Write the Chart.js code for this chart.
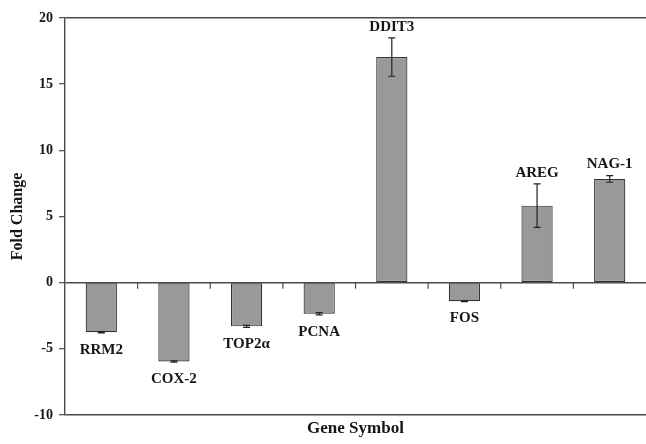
<!DOCTYPE html>
<html>
<head>
<meta charset="utf-8">
<title>Fold Change by Gene Symbol</title>
<script src="https://cdn.jsdelivr.net/npm/chart.js@4.4.1/dist/chart.umd.min.js"></script>
<style>
  html, body { margin: 0; padding: 0; background: #fff; }
  #wrap { width: 646px; height: 444px; }
</style>
</head>
<body>
<div id="wrap"><canvas id="foldChart" width="646" height="444"></canvas></div>
<script>
const genes = ['RRM2', 'COX-2', 'TOP2\u03b1', 'PCNA', 'DDIT3', 'FOS', 'AREG', 'NAG-1'];
const foldChange = [-3.75, -5.95, -3.3, -2.35, 17.05, -1.4, 5.82, 7.84];
const foldError = [0.05, 0.05, 0.08, 0.08, 1.45, 0.03, 1.64, 0.25];
const yTicks = [-10, -5, 0, 5, 10, 15, 20];

const serif = "'Liberation Serif', 'Times New Roman', serif";
const ink = '#161616';
const lineCol = '#4a4a4a';

// error bars + gene labels next to each bar
const barExtras = {
    id: 'barExtras',
    afterDatasetsDraw(chart) {
        const ctx = chart.ctx;
        const y = chart.scales.y;
        const x = chart.scales.x;
        const meta = chart.getDatasetMeta(0);

        // small ticks on the zero line between categories
        ctx.save();
        ctx.strokeStyle = lineCol;
        ctx.lineWidth = 1.2;
        const y0 = y.getPixelForValue(0);
        for (let i = 0; i < genes.length - 1; i++) {
            const bx = (x.getPixelForValue(i) + x.getPixelForValue(i + 1)) / 2;
            ctx.beginPath();
            ctx.moveTo(bx, y0);
            ctx.lineTo(bx, y0 + 6);
            ctx.stroke();
        }

        ctx.strokeStyle = '#222';
        ctx.lineWidth = 1.2;
        ctx.font = 'bold 15px ' + serif;
        ctx.fillStyle = ink;
        ctx.textAlign = 'center';
        ctx.textBaseline = 'middle';
        meta.data.forEach((bar, i) => {
            const v = foldChange[i];
            const e = foldError[i];
            const top = y.getPixelForValue(v + e);
            const bot = y.getPixelForValue(v - e);
            ctx.beginPath();
            ctx.moveTo(bar.x, top);
            ctx.lineTo(bar.x, bot);
            ctx.moveTo(bar.x - 3.5, top);
            ctx.lineTo(bar.x + 3.5, top);
            ctx.moveTo(bar.x - 3.5, bot);
            ctx.lineTo(bar.x + 3.5, bot);
            ctx.stroke();

            if (v >= 0) {
                ctx.fillText(genes[i], bar.x, top - 11);
            } else {
                ctx.fillText(genes[i], bar.x, bot + 17);
            }
        });
        ctx.restore();
    }
};

const frameLines = [20, 0, -10];

new Chart(document.getElementById('foldChart').getContext('2d'), {
    type: 'bar',
    data: {
        labels: genes,
        datasets: [{
            data: foldChange,
            backgroundColor: '#999999',
            borderColor: '#333333',
            borderWidth: 1.2,
            borderSkipped: false,
            barPercentage: 0.43,
            categoryPercentage: 1
        }]
    },
    options: {
        responsive: false,
        devicePixelRatio: 1,
        animation: false,
        layout: { padding: { top: 18, right: 0, bottom: 0, left: 0 } },
        plugins: {
            legend: { display: false },
            tooltip: { enabled: false }
        },
        scales: {
            x: {
                type: 'category',
                grid: { display: false },
                border: { display: false },
                ticks: { display: false },
                title: {
                    display: true,
                    text: 'Gene Symbol',
                    color: ink,
                    font: { family: serif, size: 17, weight: 'bold' },
                    padding: { top: 0, bottom: 5 }
                },
                afterFit(scale) { scale.height = 29; }
            },
            y: {
                min: -10,
                max: 20,
                afterBuildTicks(scale) {
                    scale.ticks = yTicks.map(v => ({ value: v }));
                },
                ticks: {
                    color: ink,
                    padding: 6,
                    font: { family: serif, size: 14, weight: 'bold' }
                },
                grid: {
                    color: c => (c.tick && frameLines.includes(c.tick.value)) ? lineCol : 'rgba(0,0,0,0)',
                    lineWidth: 1.4,
                    tickLength: 6,
                    tickColor: lineCol,
                    tickWidth: 1.2
                },
                border: { color: lineCol, width: 1.4 },
                title: {
                    display: true,
                    text: 'Fold Change',
                    color: ink,
                    font: { family: serif, size: 16, weight: 'bold' },
                    padding: { top: 8, bottom: 0 }
                },
                afterFit(scale) { scale.width = 65; }
            }
        }
    },
    plugins: [barExtras]
});
</script>
</body>
</html>
